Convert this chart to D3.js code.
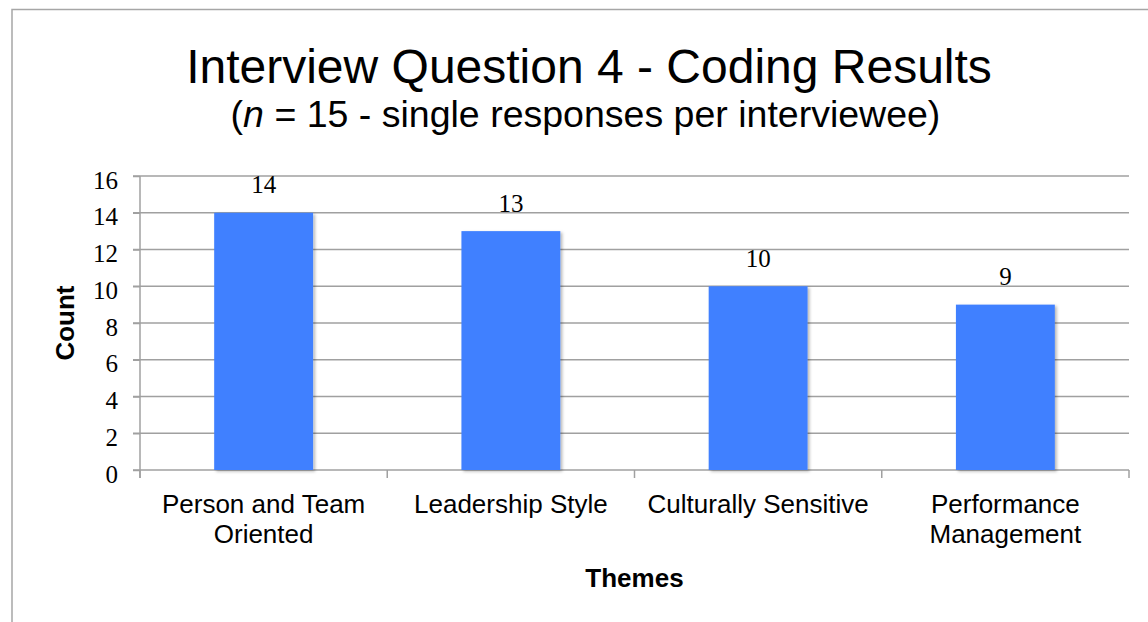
<!DOCTYPE html>
<html>
<head>
<meta charset="utf-8">
<script src="https://cdn.jsdelivr.net/npm/d3@7"></script>
<style>
  html, body { margin: 0; padding: 0; background: #fff; }
  svg { display: block; }
</style>
</head>
<body>
<svg id="chart" width="1148" height="622"></svg>
<script>
const categories = ["Person and Team Oriented", "Leadership Style", "Culturally Sensitive", "Performance Management"];
const counts = [14, 13, 10, 9];
const yTicks = [0, 2, 4, 6, 8, 10, 12, 14, 16];
const titleText = "Interview Question 4 - Coding Results";
const xAxisTitle = "Themes";
const yAxisTitle = "Count";

const svg = d3.select("#chart");
const W = 1148, H = 622;
const plot = { left: 140, right: 1129, top: 176, bottom: 470 };

// outer frame
svg.append("path")
  .attr("d", `M12,${H + 2} L12,9.5 L${W + 2},9.5`)
  .attr("fill", "none").attr("stroke", "#a6a6a6").attr("stroke-width", 1.5);

const defs = svg.append("defs");
const f = defs.append("filter").attr("id", "shadow")
  .attr("x", "-10%").attr("y", "-10%").attr("width", "130%").attr("height", "130%");
f.append("feDropShadow").attr("dx", 2).attr("dy", 1.5).attr("stdDeviation", 1.6)
  .attr("flood-color", "#000").attr("flood-opacity", 0.28);

const x = d3.scaleBand().domain(categories).range([plot.left, plot.right]).paddingInner(0.6).paddingOuter(0.3);
const xEdges = d3.scaleLinear().domain([0, categories.length]).range([plot.left, plot.right]);
const y = d3.scaleLinear().domain([0, 16]).range([plot.bottom, plot.top]);

// gridlines
svg.append("g").selectAll("line").data(yTicks).join("line")
  .attr("x1", plot.left - 7).attr("x2", plot.right)
  .attr("y1", d => y(d)).attr("y2", d => y(d))
  .attr("stroke", "#a0a0a0").attr("stroke-width", 1.5);

// y axis labels
const yAxis = svg.append("g").attr("transform", `translate(${plot.left},0)`)
  .call(d3.axisLeft(y).tickValues(yTicks).tickSize(7).tickPadding(15).tickFormat(d3.format("d")));
yAxis.select(".domain").remove();
yAxis.selectAll(".tick line").attr("stroke", "#a0a0a0").attr("stroke-width", 1.5);
yAxis.selectAll(".tick text")
  .attr("font-family", "'Liberation Serif', 'Times New Roman', serif")
  .attr("font-size", 25).attr("fill", "#000").attr("dy", "0.48em");

// y axis line
svg.append("line").attr("x1", plot.left).attr("x2", plot.left)
  .attr("y1", plot.top).attr("y2", plot.bottom + 8)
  .attr("stroke", "#a0a0a0").attr("stroke-width", 1.5);

// bottom ticks at category boundaries
svg.append("g").selectAll("line").data(d3.range(categories.length + 1)).join("line")
  .attr("x1", d => xEdges(d)).attr("x2", d => xEdges(d))
  .attr("y1", plot.bottom).attr("y2", plot.bottom + 8)
  .attr("stroke", "#a0a0a0").attr("stroke-width", 1.5);

// bars
svg.append("g").selectAll("rect").data(categories).join("rect")
  .attr("x", d => x(d)).attr("width", x.bandwidth())
  .attr("y", (d, i) => y(counts[i])).attr("height", (d, i) => y(0) - y(counts[i]))
  .attr("fill", "#4080ff").attr("filter", "url(#shadow)");

// value labels
svg.append("g").selectAll("text").data(categories).join("text")
  .attr("x", d => x(d) + x.bandwidth() / 2)
  .attr("y", (d, i) => y(counts[i]) - 19.5)
  .attr("text-anchor", "middle")
  .attr("font-family", "'Liberation Serif', 'Times New Roman', serif")
  .attr("font-size", 25).attr("fill", "#000")
  .text((d, i) => counts[i]);

// category labels with wrapping
const catG = svg.append("g");
categories.forEach((c, i) => {
  const cx = x(c) + x.bandwidth() / 2;
  const t = catG.append("text")
    .attr("text-anchor", "middle")
    .attr("font-family", "'Liberation Sans', Arial, sans-serif")
    .attr("font-size", 26).attr("fill", "#000");
  const words = c.split(" ");
  let lines = [];
  let line = [];
  const probe = t.append("tspan");
  words.forEach(w => {
    const test = line.concat(w).join(" ");
    probe.text(test);
    if (probe.node().getComputedTextLength() > 238 && line.length) {
      lines.push(line.join(" "));
      line = [w];
    } else {
      line.push(w);
    }
  });
  lines.push(line.join(" "));
  probe.remove();
  lines.forEach((l, k) => {
    t.append("tspan").attr("x", cx).attr("y", 513 + k * 30).text(l);
  });
});

// axis titles
svg.append("text").attr("x", (plot.left + plot.right) / 2).attr("y", 587)
  .attr("text-anchor", "middle")
  .attr("font-family", "'Liberation Sans', Arial, sans-serif")
  .attr("font-size", 26).attr("font-weight", "bold").attr("fill", "#000")
  .text(xAxisTitle);

svg.append("text")
  .attr("transform", `translate(74,${(plot.top + plot.bottom) / 2}) rotate(-90)`)
  .attr("text-anchor", "middle")
  .attr("font-family", "'Liberation Sans', Arial, sans-serif")
  .attr("font-size", 26).attr("font-weight", "bold").attr("fill", "#000")
  .text(yAxisTitle);

// title
svg.append("text").attr("x", 589).attr("y", 83)
  .attr("text-anchor", "middle")
  .attr("font-family", "'Liberation Sans', Arial, sans-serif")
  .attr("font-size", 48).attr("fill", "#000")
  .text(titleText);

const sub = svg.append("text").attr("x", 585.5).attr("y", 127)
  .attr("text-anchor", "middle")
  .attr("font-family", "'Liberation Sans', Arial, sans-serif")
  .attr("font-size", 37.5).attr("fill", "#000");
sub.append("tspan").text("(");
sub.append("tspan").attr("font-style", "italic").text("n");
sub.append("tspan").text(" = 15 - single responses per interviewee)");
</script>
</body>
</html>
